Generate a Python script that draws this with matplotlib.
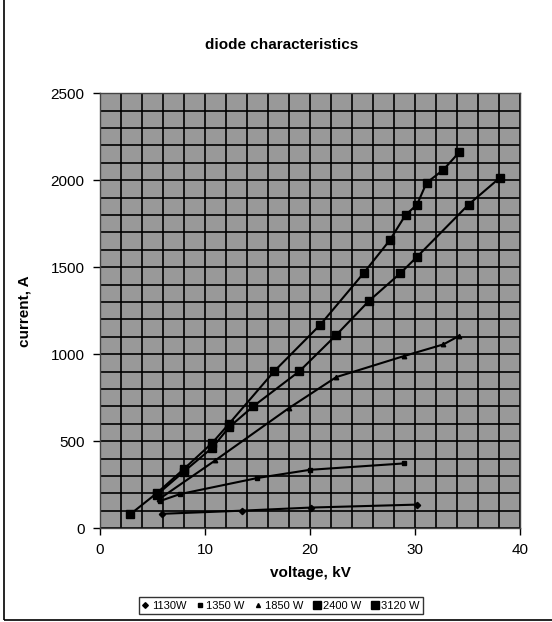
import matplotlib as mpl

mpl.use("Agg")

import matplotlib.pyplot as plt
import numpy as np
from matplotlib.lines import Line2D
from matplotlib.patches import Rectangle

mpl.rcParams.update(
    {
        "font.family": ["Liberation Sans", "DejaVu Sans"],
        "font.size": 10,
    }
)

# data
v_1130 = [5.9, 13.5, 20.1, 30.2]
i_1130 = [82, 100, 118, 135]

v_1350 = [5.7, 7.6, 15.0, 20.0, 29.0]
i_1350 = [155, 195, 288, 335, 372]

v_1850 = [5.6, 11.0, 18.0, 22.5, 29.0, 32.7, 34.2]
i_1850 = [165, 390, 690, 868, 990, 1056, 1105]

v_2400 = [5.4, 8.0, 10.7, 12.3, 14.6, 19.0, 22.5, 25.6, 28.6, 30.2, 35.1, 38.1]
i_2400 = [190, 325, 462, 580, 700, 902, 1110, 1305, 1465, 1560, 1860, 2015]

v_3120 = [2.9, 5.4, 8.0, 10.7, 12.3, 16.6, 21.0, 25.1, 27.6, 29.1, 30.2, 31.1, 32.7, 34.2]
i_3120 = [80, 200, 340, 490, 600, 902, 1170, 1465, 1655, 1800, 1860, 1985, 2060, 2160]

labels = ["1130W", "1350 W", "1850 W", "2400 W", "3120 W"]
markers = ["D", "s", "^", "s", "s"]
msizes = [3.2, 3.2, 3.2, 6.0, 6.0]

series = [(v_1130, i_1130), (v_1350, i_1350), (v_1850, i_1850), (v_2400, i_2400), (v_3120, i_3120)]

fig = plt.figure(figsize=(5.52, 6.22), dpi=100)
ax = fig.add_axes([0.181, 0.151, 0.761, 0.699])
ax.set_facecolor("#999999")

ax.set_xlim(0, 40)
ax.set_ylim(0, 2500)
ax.set_xticks(np.arange(0, 41, 10))
ax.set_yticks(np.arange(0, 2501, 500))
ax.set_xticks(np.arange(0, 41, 2), minor=True)
ax.set_yticks(np.arange(0, 2501, 100), minor=True)
ax.grid(which="both", color="black", lw=1.2)
ax.set_axisbelow(True)
ax.tick_params(which="major", direction="out", length=5, width=1, labelsize=11, pad=6)
ax.tick_params(which="minor", length=0)
for s in ax.spines.values():
    s.set_color("#444444")
    s.set_linewidth(1.0)

for (v, i), m, ms in zip(series, markers, msizes):
    ax.plot(v, i, color="black", lw=1.5, marker=m, ms=ms, mfc="black", mec="black", zorder=3)

ax.set_xlabel("voltage, kV", fontsize=11, fontweight="bold", labelpad=6)
ax.set_ylabel("current, A", fontsize=11, fontweight="bold", labelpad=14)

fig.text(0.51, 0.928, "diode characteristics", ha="center", va="center", fontsize=11, fontweight="bold")

handles = [
    Line2D([], [], color="black", marker=m, ls="none", ms=ms * 0.9)
    for m, ms in zip(markers, msizes)
]
leg = fig.legend(
    handles,
    labels,
    loc="center",
    bbox_to_anchor=(0.509, 0.026),
    ncol=5,
    fontsize=8,
    frameon=True,
    fancybox=False,
    edgecolor="black",
    handlelength=0.6,
    handletextpad=0.3,
    columnspacing=0.9,
    borderpad=0.3,
)
leg.get_frame().set_linewidth(1.0)

fig.add_artist(
    Rectangle((0.007, 0.003), 1.2, 1.2, transform=fig.transFigure, fill=False, edgecolor="black", lw=1.2)
)

fig.savefig("out.png", dpi=100)
